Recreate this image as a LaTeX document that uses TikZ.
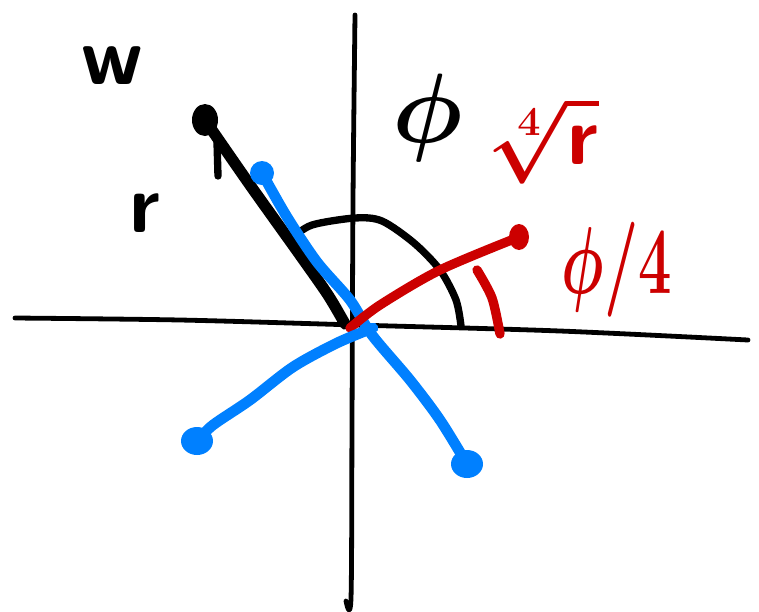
\documentclass[tikz,border=0pt]{standalone}
\usepackage{fix-cm}
\usepackage{xcolor}
\usetikzlibrary{positioning}
\definecolor{rootred}{RGB}{204,0,0}
\definecolor{rootblue}{RGB}{0,128,255}

\begin{document}
\begin{tikzpicture}[
  x=0.75pt, y=-0.75pt,
  axis/.style={line width=3.6pt, line cap=round, line join=round},
  mainray/.style={line width=8.5pt, line cap=round, black},
  redray/.style={line width=7pt, line cap=round, rootred},
  blueray/.style={line width=8pt, line cap=round, rootblue},
  angarc/.style={line width=5.5pt, line cap=round},
  hand/.style={inner sep=0pt, font=\fontsize{62}{62}\selectfont\sffamily\bfseries},
  mathlbl/.style={inner sep=0pt, font=\fontsize{62}{62}\selectfont\boldmath}
]
\useasboundingbox (0,0) rectangle (759,611);

% the point w and the origin
\coordinate (O) at (356,326);
\coordinate (wpt) at (205,120);
\coordinate (red) at (519,237);
\coordinate (bup) at (262,173);
\coordinate (bdl) at (197,441);
\coordinate (bdr) at (467,464);

% axes
\draw[axis] plot[smooth] coordinates {(15,318) (180,320) (356,325) (560,331) (748,340)};
\draw[axis] plot[smooth] coordinates {(355,15) (353,200) (352,420) (351,598) (346,601)};

% angle phi
\draw[angarc] plot[smooth] coordinates {(292,238) (312,225) (355,218) (382,221) (414,243) (440,270) (456,300) (461,326)};

% w and its modulus
\draw[mainray] plot[smooth] coordinates {(wpt) (250,185) (300,255) (328,295) (345,324)};
\draw[line width=5.5pt, line cap=round] (217,142) -- (218,176);
\fill (wpt) ellipse (13 and 16);

% fourth roots
\draw[blueray] plot[smooth] coordinates {(bup) (287,217) (317,262) (350,300) (372,335) (410,380) (440,420) (bdr)};
\fill[rootblue] (bdr) ellipse (16 and 14);
\fill[rootblue] (bup) ellipse (12 and 12);

\draw[redray] plot[smooth] coordinates {(350,328) (380,305) (440,270) (red)};
\fill[rootred] (red) ellipse (10 and 13);
\draw[redray] plot[smooth] coordinates {(477,270) (492,298) (500,334)};

\draw[blueray] plot[smooth] coordinates {(bdl) (213,425) (250,400) (293,367) (337,343) (373,328)};
\fill[rootblue] (bdl) ellipse (16 and 14);

% labels
\node[hand] (wlbl) at (112,66) {w};
\node[hand] (rlbl) at (145,213) {r};
\node[mathlbl, font=\fontsize{74}{74}\selectfont\boldmath] (philbl) at (428,118) {$\phi$};
\node[mathlbl, rootred] (rootlbl) at (545,140) {$\sqrt[4]{\mathsf{r}}$};
\node[mathlbl, rootred] (quarterlbl) at (617,270) {\scalebox{0.72}[1.15]{$\phi/4$}};
\end{tikzpicture}
\end{document}
